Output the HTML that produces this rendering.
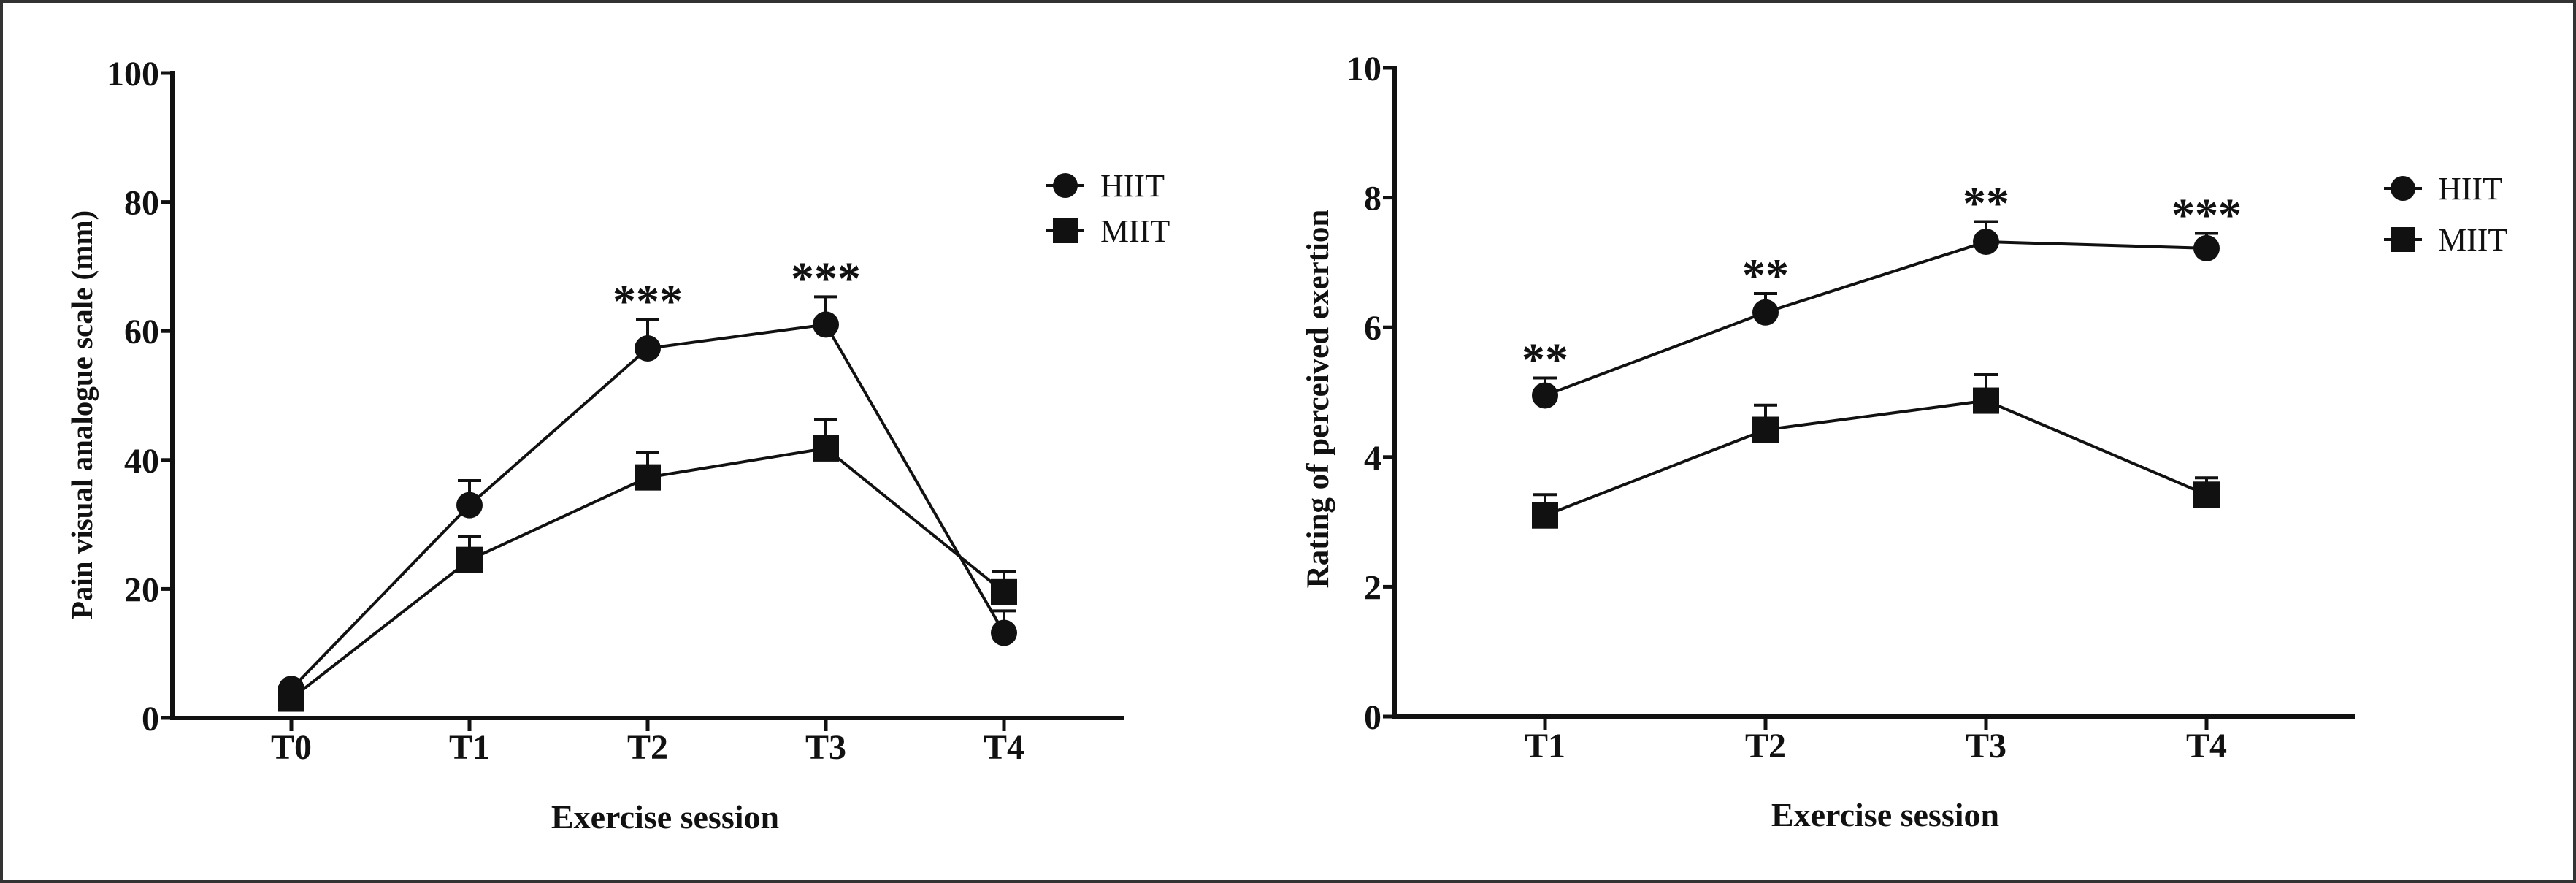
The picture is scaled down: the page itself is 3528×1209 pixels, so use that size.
<!DOCTYPE html>
<html><head><meta charset="utf-8"><style>
html,body{margin:0;padding:0;background:#fff;overflow:hidden}
svg{display:block}
text{font-family:"Liberation Serif",serif;fill:#111}
</style></head><body>
<svg id="s" width="3528" height="1209" xmlns="http://www.w3.org/2000/svg">
<rect x="2" y="2" width="3524" height="1205" fill="#fff" stroke="#333" stroke-width="4"/>
</svg>
<script>
const leftCats=["T0","T1","T2","T3","T4"];
const leftHiit=[4.5,33,57.3,61,13.2];
const leftHiitErr=[0.8,3.8,4.5,4.3,3.4];
const leftMiit=[3,24.5,37.3,41.8,19.5];
const leftMiitErr=[0.8,3.6,3.9,4.5,3.2];
const leftTicks=[0,20,40,60,80,100];
const leftStars=["","","***","***",""];
const rightCats=["T1","T2","T3","T4"];
const rightHiit=[4.95,6.23,7.32,7.22];
const rightHiitErr=[0.27,0.29,0.31,0.23];
const rightMiit=[3.1,4.42,4.87,3.42];
const rightMiitErr=[0.32,0.38,0.4,0.26];
const rightTicks=[0,2,4,6,8,10];
const rightStars=["**","**","**","***"];

const svg=document.getElementById('s');
const NS="http://www.w3.org/2000/svg";
function mk(tag,attrs,parent){const e=document.createElementNS(NS,tag);for(const k in attrs)e.setAttribute(k,attrs[k]);(parent||svg).appendChild(e);return e;}

function chart(cfg){
  const g=mk('g',{});
  
  
  const ymax=cfg.ticks[cfg.ticks.length-1];
  const Y=v=>cfg.y0-(v/ymax)*(cfg.y0-cfg.y1);
  const X=i=>cfg.xs+i*cfg.dx;
  const ya=mk('line',{x1:cfg.ax,y1:cfg.y1-3,x2:cfg.ax,y2:cfg.y0+3,stroke:'#111','stroke-width':6},g);
  
  
  const xa=mk('line',{x1:cfg.ax-3,y1:cfg.y0,x2:cfg.axEnd,y2:cfg.y0,stroke:'#111','stroke-width':6},g);
  
  
  cfg.ticks.forEach(t=>{
    mk('line',{x1:cfg.ax-16,y1:Y(t),x2:cfg.ax,y2:Y(t),stroke:'#111','stroke-width':5},g);
    const tx=mk('text',{x:cfg.ax-18,y:Y(t)+17,'text-anchor':'end','font-size':48,'font-weight':'bold'},g);
    tx.textContent=t;
    
    
  });
  cfg.cats.forEach((c,i)=>{
    mk('line',{x1:X(i),y1:cfg.y0,x2:X(i),y2:cfg.y0+18,stroke:'#111','stroke-width':5},g);
    const tx=mk('text',{x:X(i),y:cfg.y0+56,'text-anchor':'middle','font-size':48,'font-weight':'bold'},g);
    tx.textContent=c;
    
    
  });
  const yt=mk('text',{x:0,y:0,transform:`translate(${cfg.ytx},${cfg.yty}) rotate(-90)`,'text-anchor':'middle','font-size':cfg.ytfs,'font-weight':'bold'},g);
  yt.textContent=cfg.ytitle;
  
  
  const xt=mk('text',{x:cfg.xtx,y:cfg.xty,'text-anchor':'middle','font-size':46,'font-weight':'bold'},g);
  xt.textContent='Exercise session';
  
  
  function series(vals,errs,shape,nm){
    const pts=vals.map((v,i)=>X(i)+','+Y(v)).join(' ');
    const pl=mk('polyline',{points:pts,fill:'none',stroke:'#111','stroke-width':4},g);
    
    
    vals.forEach((v,i)=>{
      const top=Y(v+errs[i]);
      mk('line',{x1:X(i),y1:Y(v),x2:X(i),y2:top,stroke:'#111','stroke-width':4},g);
      mk('line',{x1:X(i)-16,y1:top,x2:X(i)+16,y2:top,stroke:'#111','stroke-width':4},g);
      let m;
      if(shape==='c') m=mk('circle',{cx:X(i),cy:Y(v),r:18,fill:'#111'},g);
      else m=mk('rect',{x:X(i)-18,y:Y(v)-18,width:36,height:36,fill:'#111'},g);
      
      
    });
  }
  series(cfg.miit,cfg.miitErr,'s','miit');
  series(cfg.hiit,cfg.hiitErr,'c','hiit');
  cfg.stars.forEach((s,i)=>{
    if(!s)return;
    const top=Y(cfg.hiit[i]+cfg.hiitErr[i]);
    const st=mk('text',{x:X(i),y:top-4,'text-anchor':'middle','font-size':64,'font-weight':'bold','font-family':'Liberation Sans, sans-serif'},g);
    st.textContent=s;
    
    
  });
  [['HIIT','c',cfg.lgy1],['MIIT','s',cfg.lgy2]].forEach(([lab,sh,ly])=>{
    const lg=mk('g',{},g);
    
    
    mk('line',{x1:cfg.lgx-26,y1:ly,x2:cfg.lgx+26,y2:ly,stroke:'#111','stroke-width':4},lg);
    if(sh==='c') mk('circle',{cx:cfg.lgx,cy:ly,r:17,fill:'#111'},lg);
    else mk('rect',{x:cfg.lgx-17,y:ly-17,width:34,height:34,fill:'#111'},lg);
    const t=mk('text',{x:cfg.lgx+48,y:ly+15,'font-size':44},lg);
    t.textContent=lab;
  });
}
chart({name:'pain-chart',cats:leftCats,hiit:leftHiit,hiitErr:leftHiitErr,miit:leftMiit,miitErr:leftMiitErr,ticks:leftTicks,stars:leftStars,
  ax:236,axEnd:1539,y0:983,y1:100,xs:399,dx:244,ytitle:'Pain visual analogue scale (mm)',ytfs:41,ytx:126,yty:568,xtx:911,xty:1134,lgx:1459,lgy1:254,lgy2:316});
chart({name:'rpe-chart',cats:rightCats,hiit:rightHiit,hiitErr:rightHiitErr,miit:rightMiit,miitErr:rightMiitErr,ticks:rightTicks,stars:rightStars,
  ax:1910,axEnd:3226,y0:981,y1:93,xs:2116,dx:302,ytitle:'Rating of perceived exertion',ytfs:43,ytx:1819,yty:546,xtx:2582,xty:1131,lgx:3291,lgy1:258,lgy2:328});
</script>
</body></html>
